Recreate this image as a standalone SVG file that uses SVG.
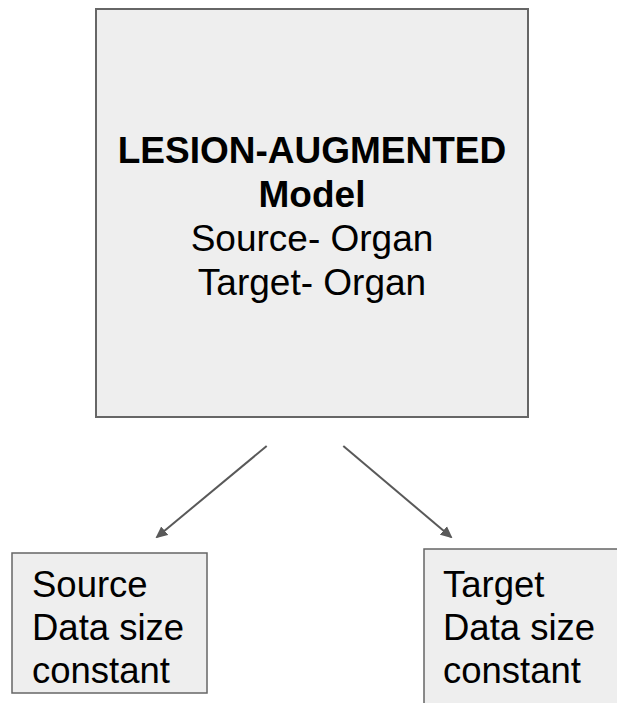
<svg xmlns="http://www.w3.org/2000/svg" width="617" height="703" viewBox="0 0 617 703">
<style>
.box{fill:#eeeeee;stroke:#666666;stroke-width:2}
.t{font-family:"Liberation Sans",Arial,sans-serif;font-size:36.5px;fill:#000000}
.m{font-size:37px}
.c{text-anchor:middle}
.b{font-weight:bold}
.conn{stroke:#595959;stroke-width:2;fill:none}
</style>
<defs>
<marker id="ah" markerWidth="12" markerHeight="12" refX="10" refY="6" orient="auto" markerUnits="userSpaceOnUse">
<path d="M0,0.5 L12,6 L0,11.5 Z" fill="#595959"/>
</marker>
</defs>
<rect x="0" y="0" width="617" height="703" fill="#ffffff"/>
<g id="main">
<rect class="box" x="96" y="9" width="432" height="408"/>
<text class="t m c b" x="312" y="163">LESION-AUGMENTED</text>
<text class="t m c b" x="312" y="207">Model</text>
<text class="t m c" x="312" y="251">Source- Organ</text>
<text class="t m c" x="312" y="295">Target- Organ</text>
</g>
<g id="source">
<rect class="box" x="12" y="553" width="195" height="140" style="stroke-width:1.5"/>
<text class="t" x="32" y="597">Source</text>
<text class="t" x="32" y="640">Data size</text>
<text class="t" x="32" y="683">constant</text>
</g>
<g id="target">
<rect class="box" x="424" y="549" width="220" height="180" style="stroke-width:1.5"/>
<text class="t" x="443" y="597">Target</text>
<text class="t" x="443" y="640">Data size</text>
<text class="t" x="443" y="683">constant</text>
</g>
<g id="connectors">
<line class="conn" x1="266.7" y1="446" x2="157" y2="537" marker-end="url(#ah)"/>
<line class="conn" x1="343.3" y1="446" x2="451" y2="537" marker-end="url(#ah)"/>
</g>
</svg>
